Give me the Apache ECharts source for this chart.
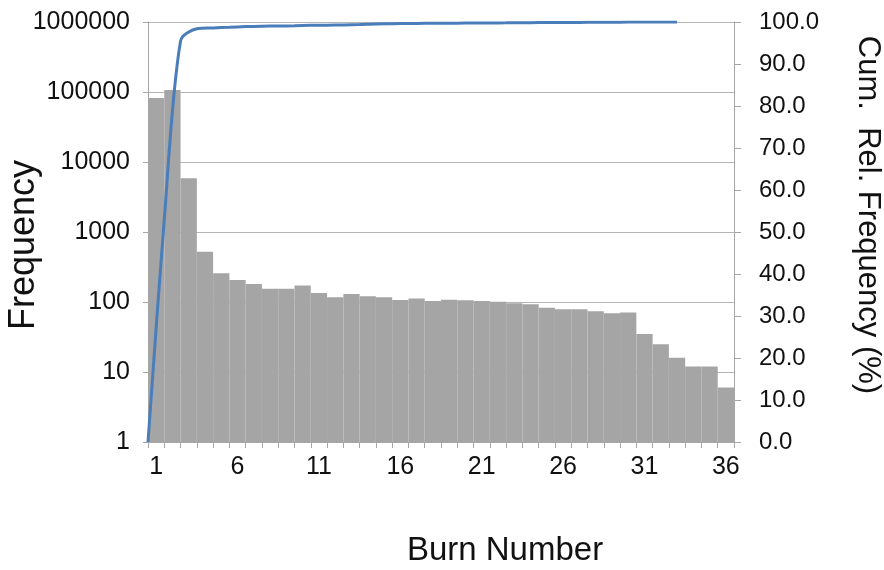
<!DOCTYPE html>
<html>
<head>
<meta charset="utf-8">
<script src="https://cdn.jsdelivr.net/npm/echarts@6/dist/echarts.min.js"></script>
<style>
html,body{margin:0;padding:0;background:#fff;}
#chart{width:884px;height:570px;}
</style>
</head>
<body>
<div id="chart"></div>
<script>
const categories = ['1','2','3','4','5','6','7','8','9','10','11','12','13','14','15','16','17','18','19','20','21','22','23','24','25','26','27','28','29','30','31','32','33','34','35','36'];
const frequency = [82000, 107000, 5850, 521, 257, 206, 181, 155, 155, 172, 134, 117, 130, 121, 117, 107, 112, 103, 108, 106, 103, 101, 96, 93, 83, 79, 79, 74, 69, 71, 35, 25, 16, 12, 12, 6];
const cumX = [0.5, 1.5, 2.5, 3.5, 4.5, 5.5, 6.5, 7.5, 8.5, 9.5, 10.5, 11.5, 12.5, 13.5, 14.5, 15.5, 16.5, 17.5, 18.5, 19.5, 20.5, 21.5, 22.5, 23.5, 24.5, 25.5, 26.5, 27.5, 28.5, 29.5, 30.5, 31.5, 32.5, 33];
const cumPct = [0, 53, 95.5, 98.4, 98.6, 98.75, 98.9, 99.0, 99.05, 99.1, 99.2, 99.25, 99.3, 99.4, 99.55, 99.6, 99.65, 99.68, 99.7, 99.72, 99.75, 99.78, 99.8, 99.83, 99.86, 99.88, 99.9, 99.92, 99.94, 99.96, 99.98, 99.99, 100, 100];
const leftTitle = 'Frequency';
const rightTitle = 'Cum.  Rel. Frequency (%)';
const bottomTitle = 'Burn Number';

const FONT = '"Liberation Sans", Arial, sans-serif';
const chart = echarts.init(document.getElementById('chart'), null, {renderer: 'canvas'});
const axisGray = '#a6a6a6';
chart.setOption({
  animation: false,
  backgroundColor: '#ffffff',
  textStyle: {fontFamily: FONT, color: '#111111'},
  grid: {left: 148, right: 150, top: 22, bottom: 128, containLabel: false, outerBoundsMode: 'none'},
  graphic: [{
    type: 'text',
    x: 24,
    y: 245,
    rotation: Math.PI / 2,
    style: {text: leftTitle, fontSize: 36, fontFamily: FONT, fill: '#111111', align: 'center', verticalAlign: 'middle'}
  }],
  xAxis: [{
    type: 'category',
    data: categories,
    boundaryGap: true,
    axisLine: {show: true, lineStyle: {color: axisGray, width: 1}},
    axisTick: {show: true, interval: 0, length: 6, lineStyle: {color: axisGray}},
    axisLabel: {interval: 4, fontSize: 25, color: '#111111', margin: 13, fontFamily: FONT},
    splitLine: {show: false},
    name: bottomTitle,
    nameLocation: 'middle',
    nameGap: 92,
    nameTextStyle: {fontSize: 33, color: '#111111', fontFamily: FONT, padding: [0, 0, 0, 128]}
  }, {
    type: 'value',
    min: 0.5,
    max: 36.5,
    show: false
  }],
  yAxis: [{
    type: 'log',
    logBase: 10,
    min: 1,
    max: 1000000,
    axisLine: {show: true, lineStyle: {color: axisGray, width: 1}},
    axisTick: {show: true, length: 5, lineStyle: {color: axisGray}},
    axisLabel: {fontSize: 25, color: '#111111', margin: 18, fontFamily: FONT,
      formatter: v => String(Math.round(v))},
    splitLine: {show: true, lineStyle: {color: '#b5b5b5', width: 1}}
  }, {
    type: 'value',
    min: 0,
    max: 100,
    interval: 10,
    position: 'right',
    axisLine: {show: true, lineStyle: {color: axisGray, width: 1}},
    axisTick: {show: true, length: 7, lineStyle: {color: axisGray}},
    axisLabel: {fontSize: 24, color: '#111111', margin: 25, fontFamily: FONT,
      formatter: v => v.toFixed(1)},
    splitLine: {show: false},
    name: rightTitle,
    nameLocation: 'middle',
    nameRotate: -90,
    nameGap: 118,
    nameTextStyle: {fontSize: 31, color: '#111111', fontFamily: FONT, padding: [0, 34, 0, 0]}
  }],
  series: [{
    type: 'bar',
    name: 'Frequency',
    data: frequency,
    xAxisIndex: 0,
    yAxisIndex: 0,
    barCategoryGap: '0%',
    barGap: '0%',
    itemStyle: {color: '#a5a5a5'},
    z: 2
  }, {
    type: 'line',
    name: 'Cumulative',
    data: cumX.map((x, i) => [x, cumPct[i]]),
    xAxisIndex: 1,
    yAxisIndex: 1,
    showSymbol: false,
    smooth: 0.3,
    lineStyle: {color: '#4a7ebb', width: 3},
    z: 3
  }]
});
</script>
</body>
</html>
